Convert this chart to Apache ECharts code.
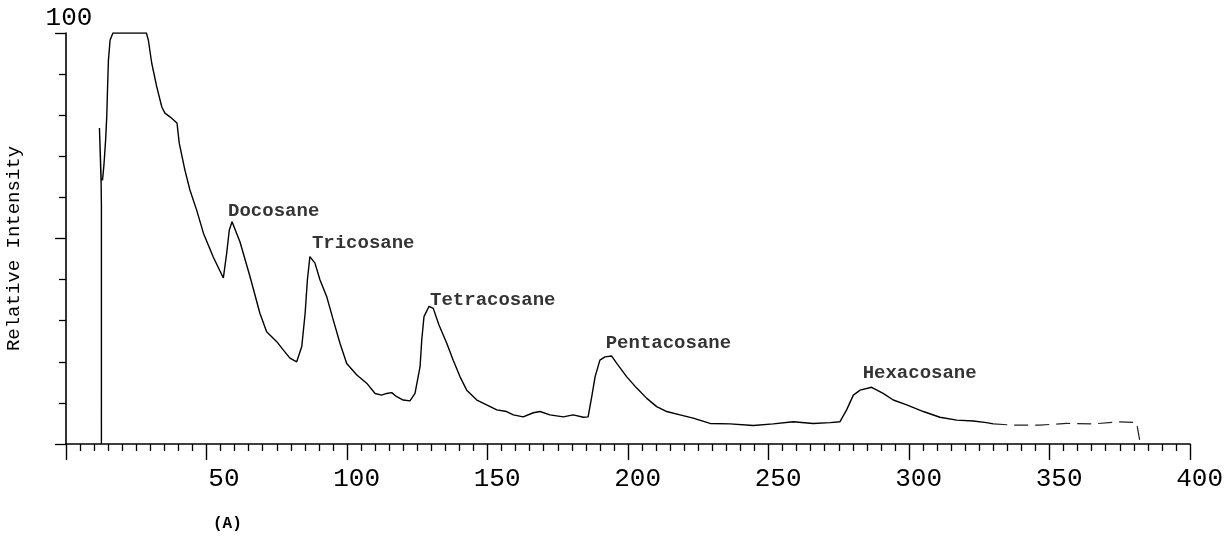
<!DOCTYPE html>
<html>
<head>
<meta charset="utf-8">
<script src="https://cdn.jsdelivr.net/npm/echarts@6/dist/echarts.min.js"></script>
<style>html,body{margin:0;padding:0;background:#fff}#c{width:1226px;height:537px}</style>
</head>
<body>
<div id="c"></div>
<script>
// Retention time (x) and relative intensity (y) of the trace
const traceX = [12.6,12.6,12.5,11.9,12.5,13.0,13.5,14.1,14.5,14.8,15.1,15.7,16.7,28.6,29.3,30.5,32.3,34.1,35.2,37.0,39.5,40.3,42.3,44.1,46.5,48.9,52.4,56.0,57.2,58.1,59.1,60.7,61.9,65.5,69.0,71.4,75.0,77.3,79.7,82.1,83.9,85.1,85.9,86.8,88.6,90.4,92.8,95.1,97.5,99.9,103.5,107.0,110.0,112.3,114.1,115.9,117.7,120.0,122.4,124.2,126.0,126.6,127.4,129.2,130.7,132.7,135.5,137.8,140.2,142.6,146.2,149.7,153.3,156.8,159.2,162.7,166.3,168.7,172.2,177.0,180.5,184.1,185.8,187.1,188.3,190.0,191.8,194.2,196.0,199.5,203.1,206.7,210.2,213.8,218.5,223.2,229.2,236.3,244.6,251.7,258.8,265.9,271.9,275.4,277.8,280.2,282.6,286.7,290.8,294.4,299.2,305.1,311.0,317.0,322.9,327.6,330.0];
const traceY = [0,58,63.5,76.9,64.7,64.2,67.9,74,79.6,86.9,93.4,98.3,100,100,98.3,92.7,86.9,82,80.5,79.6,78.1,73.2,66.7,61.8,56.9,51.3,45.5,40.4,46.5,52,54.1,51.3,49.2,40.7,31.8,27.3,24.9,22.9,20.9,20.0,23.7,31.8,39.9,45.6,44.0,39.9,35.8,30.2,24.5,19.6,16.8,14.8,12.3,11.9,12.3,12.5,11.5,10.7,10.5,12.3,18.8,25.3,31.0,33.5,33.0,29.0,24.5,20.4,16.4,13.1,10.7,9.5,8.3,7.9,7.1,6.6,7.6,7.9,7.1,6.6,7.1,6.5,6.6,11.5,16.4,20.4,21.2,21.4,19.6,16.4,13.6,11.1,9.1,7.9,7.1,6.3,5.0,4.9,4.5,4.9,5.4,5.0,5.2,5.4,8.3,11.9,13.1,13.8,12.3,10.7,9.5,7.9,6.5,5.8,5.6,5.2,4.9];
// faint (broken) tail of the trace
const tailX = [330.0,337.1,346.6,356.1,365.6,375.1,381.0,382.2];
const tailY = [4.9,4.6,4.6,5.0,4.9,5.4,5.2,0.5];
// peak annotations
const peakNames = ['Docosane','Tricosane','Tetracosane','Pentacosane','Hexacosane'];
const peakX = [59.1,86.8,129.2,194.2,286.7];
const peakY = [54.1,45.6,33.5,21.4,13.8];
// axis ticks
const xTickLabels = ['50','100','150','200','250','300','350','400'];
const yTopLabel = '100';
const yAxisName = 'Relative Intensity';
const panelLabel = '(A)';

const labelOffsets = [[-4,-10],[2,-13],[1,-6],[-6,-13],[-9,-14]];
const mono = '"Liberation Mono", "DejaVu Sans Mono", monospace';

const chart = echarts.init(document.getElementById('c'), null, {renderer:'canvas'});
const gridL = 66, gridR = 36, shift = 33;
chart.setOption({
  backgroundColor:'#fff',
  animation:false,
  grid:[
    {left:gridL, right:gridR, top:33, bottom:93, containLabel:false, outerBoundsMode:'none'},
    {left:gridL+shift, right:gridR-shift, top:33, bottom:93, containLabel:false, outerBoundsMode:'none'}
  ],
  xAxis:[
    {type:'value', gridIndex:0, min:0, max:400, interval:50,
     axisLine:{show:true, onZero:false, lineStyle:{color:'#000', width:1.6}},
     axisTick:{show:true, length:16, lineStyle:{color:'#000', width:1.4}},
     minorTick:{show:true, splitNumber:10, length:7, lineStyle:{color:'#000', width:1.3}},
     axisLabel:{show:false}, splitLine:{show:false}, minorSplitLine:{show:false}},
    {type:'value', gridIndex:1, min:0, max:400, interval:50,
     axisLine:{show:false}, axisTick:{show:false}, splitLine:{show:false},
     axisLabel:{show:true, showMinLabel:false, align:'right', margin:22,
       fontFamily:mono, fontSize:26, color:'#000',
       formatter:v => { const i = Math.round(v/50)-1; return i>=0 && i<xTickLabels.length ? xTickLabels[i] : ''; }}}
  ],
  yAxis:[
    {type:'value', gridIndex:0, min:0, max:100, interval:50,
     name:yAxisName, nameLocation:'middle', nameGap:43, nameRotate:90,
     nameTextStyle:{fontFamily:mono, fontSize:19, color:'#000', padding:[0,20,0,0]},
     axisLine:{show:true, onZero:false, lineStyle:{color:'#000', width:1.6}},
     axisTick:{show:true, length:11, lineStyle:{color:'#000', width:1.3}},
     minorTick:{show:true, splitNumber:5, length:7, lineStyle:{color:'#000', width:1.3}},
     splitLine:{show:false}, minorSplitLine:{show:false},
     axisLabel:{show:true, showMinLabel:false, margin:-3, align:'center', verticalAlign:'bottom',
       padding:[0,0,2,0], fontFamily:mono, fontSize:26, color:'#000',
       formatter:v => v===100 ? yTopLabel : ''}},
    {type:'value', gridIndex:1, min:0, max:100, show:false}
  ],
  graphic:[
    {type:'text', left:213, top:516, style:{text:panelLabel, font:'bold 16px '+mono, fill:'#000'}}
  ],
  series:[
    {type:'line', xAxisIndex:0, yAxisIndex:0, showSymbol:false, symbol:'none',
     data:traceX.map((x,i)=>[x, traceY[i]]),
     lineStyle:{color:'#000', width:1.4}, z:3},
    {type:'line', xAxisIndex:0, yAxisIndex:0, showSymbol:false, symbol:'none',
     data:tailX.map((x,i)=>[x, tailY[i]]),
     lineStyle:{color:'#222', width:1.2, type:[14,7]}, z:3},
    {type:'scatter', xAxisIndex:0, yAxisIndex:0, symbolSize:0, silent:true,
     data:peakNames.map((n,i)=>({name:n, value:[peakX[i], peakY[i]],
       label:{offset:labelOffsets[i]}})),
     label:{show:true, position:'inside', align:'left', verticalAlign:'middle',
       formatter:p=>p.name, fontFamily:mono, fontWeight:'bold', fontSize:19, color:'#000'}, z:4}
  ]
});
</script>
</body>
</html>
